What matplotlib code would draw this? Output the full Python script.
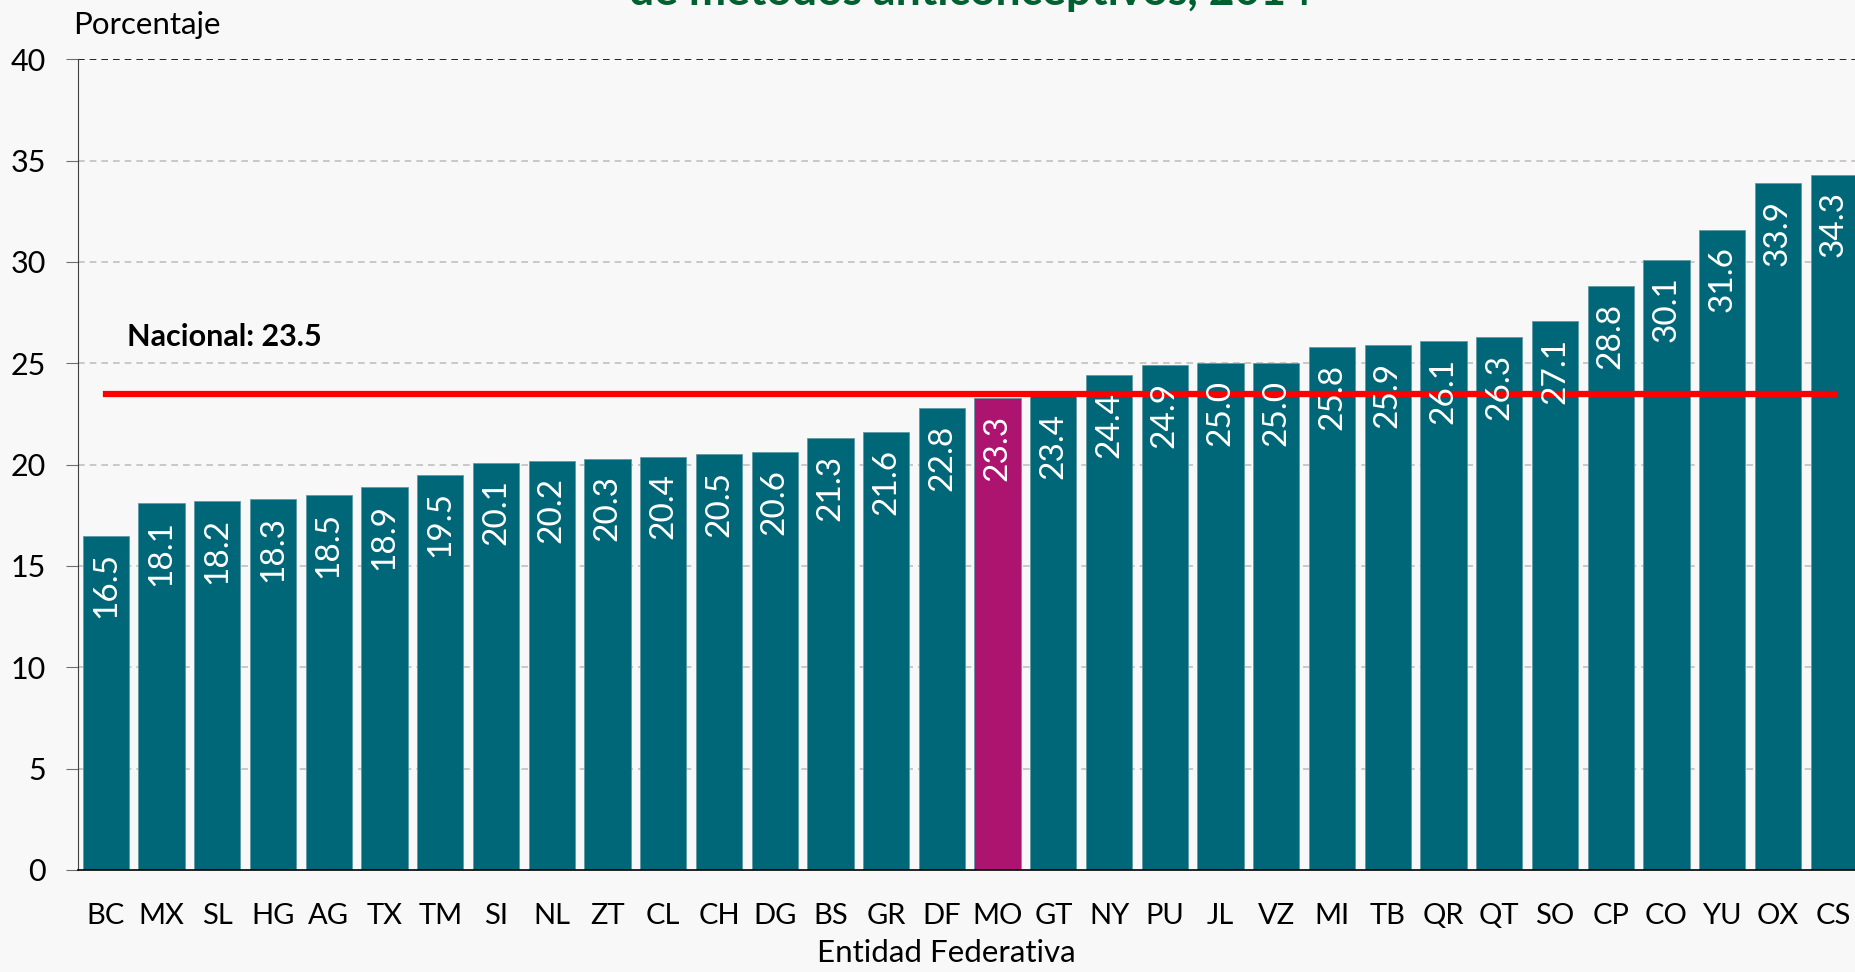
"""
Necesidad insatisfecha de metodos anticonceptivos por entidad, 2014
"""
import numpy as np
import matplotlib
matplotlib.use("Agg")
import matplotlib.pyplot as plt

plt.rcParams['font.family'] = ['Lato', 'DejaVu Sans']

entidades = ['BC', 'MX', 'SL', 'HG', 'AG', 'TX', 'TM', 'SI', 'NL', 'ZT', 'CL',
             'CH', 'DG', 'BS', 'GR', 'DF', 'MO', 'GT', 'NY', 'PU', 'JL', 'VZ',
             'MI', 'TB', 'QR', 'QT', 'SO', 'CP', 'CO', 'YU', 'OX', 'CS']
valores = [16.5, 18.1, 18.2, 18.3, 18.5, 18.9, 19.5, 20.1, 20.2, 20.3, 20.4,
           20.5, 20.6, 21.3, 21.6, 22.8, 23.3, 23.4, 24.4, 24.9, 25.0, 25.0,
           25.8, 25.9, 26.1, 26.3, 27.1, 28.8, 30.1, 31.6, 33.9, 34.3]
nacional = 23.5
destacado = 'MO'

fondo = '#f8f8f8'
teal = '#006778'
magenta = '#ad1470'

fig = plt.figure(figsize=(18.56, 9.72), dpi=100, facecolor=fondo)
ax = fig.add_axes([0.042, 0.105, 0.961, 0.834], facecolor=fondo)

x = np.arange(len(entidades))
colores = [magenta if e == destacado else teal for e in entidades]
ax.bar(x, valores, width=0.83, color=colores, edgecolor='#5f9aa5',
       linewidth=0.6, zorder=2)

# linea del promedio nacional
ax.plot([x[0], x[-1]], [nacional, nacional], color='red', lw=4.5, zorder=3)
ax.text(0.38, nacional + 2.8, 'Nacional: %.1f' % nacional, fontsize=22,
        fontweight='bold', ha='left', va='center', zorder=4)

for xi, v in zip(x, valores):
    ax.annotate('%.1f' % v, (xi, v), xytext=(0, -12), textcoords='offset points',
                rotation=90, ha='center', va='top', color='white',
                fontsize=24, zorder=4)

ax.set_xlim(-0.5, len(entidades) - 0.5)
ax.set_ylim(0, 40)
ax.set_yticks(range(0, 41, 5))
ax.set_xticks(x)
ax.set_xticklabels(entidades)
ax.tick_params(axis='x', length=0, labelsize=21, pad=24)
ax.tick_params(axis='y', length=9, color='#707070', labelsize=22, pad=14)

for yv in range(5, 40, 5):
    ax.axhline(yv, color='#c0c0c0', lw=1.2, ls=(0, (4, 3)), zorder=1)
ax.axhline(40, color='black', lw=1.2, ls=(0, (4, 3)), zorder=1)

for s in ['top', 'right']:
    ax.spines[s].set_visible(False)
ax.spines['left'].set_linewidth(0.8)
ax.spines['left'].set_color('#404040')
ax.spines['bottom'].set_linewidth(1.2)

ax.set_xlabel('Entidad Federativa', fontsize=22.5)
ax.xaxis.set_label_coords(0.487, -0.085)
fig.text(73 / 1856, 1 - 25 / 972, 'Porcentaje', fontsize=22.5, ha='left',
         va='center')

# titulo recortado en la parte superior, como en el original
fig.text(970 / 1856, 1 - 5 / 972, 'de métodos anticonceptivos, 2014',
         fontsize=32, fontweight='bold', color='#00602f', ha='center',
         va='baseline')

fig.savefig('out.png', dpi=100, facecolor=fondo)
